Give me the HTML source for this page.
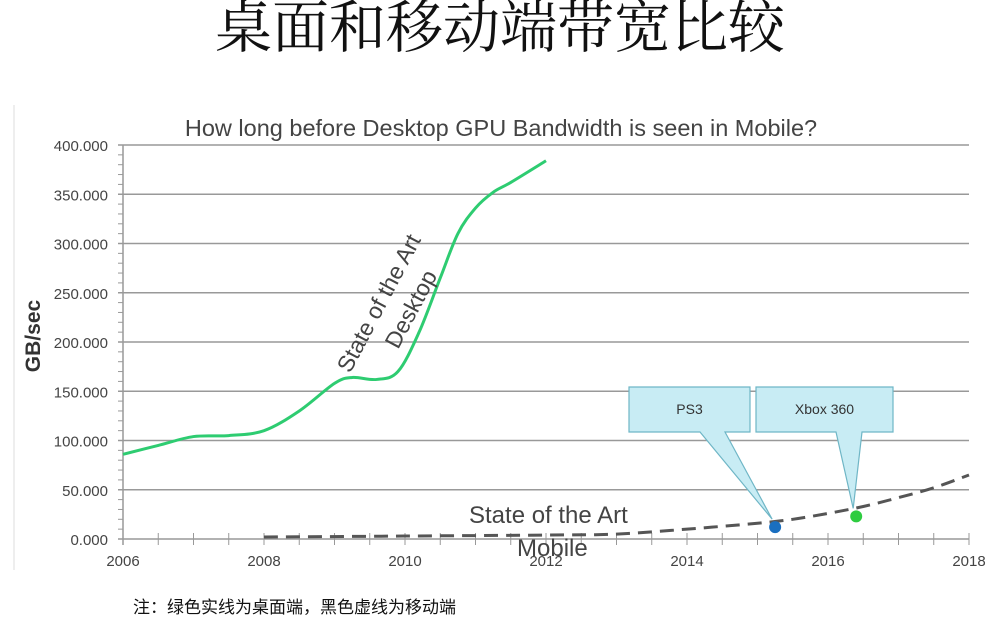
<!DOCTYPE html>
<html><head><meta charset="utf-8"><style>
body{margin:0;background:#fff;width:1006px;height:618px;overflow:hidden;font-family:"Liberation Sans","Noto Sans CJK SC",sans-serif}
</style></head><body>
<svg width="1006" height="618" xmlns="http://www.w3.org/2000/svg">
<text x="500" y="47" text-anchor="middle" font-size="57" font-family="'Noto Serif CJK SC','Noto Sans CJK SC',serif" fill="#111">桌面和移动端带宽比较</text>
<line x1="14" y1="105" x2="14" y2="570" stroke="#ddd" stroke-width="1"/>
<text x="501" y="136" text-anchor="middle" font-size="23.5" fill="#444">How long before Desktop GPU Bandwidth is seen in Mobile?</text>
<g id="grid"></g><g id="axes"></g><g id="series"></g>
<text transform="translate(40,336) rotate(-90)" text-anchor="middle" font-size="21" font-weight="bold" fill="#333">GB/sec</text>
<text transform="translate(350,374) rotate(-62)" font-size="23" fill="#444">State of the Art</text>
<text transform="translate(398,350) rotate(-62)" font-size="23" fill="#444">Desktop</text>
<text x="469" y="523" font-size="24" fill="#444">State of the Art</text>
<text x="517" y="556" font-size="24" fill="#444">Mobile</text>
<g id="callouts"></g>
<text x="133" y="613" font-size="17" fill="#111">注：绿色实线为桌面端，黑色虚线为移动端</text>
</svg>
<script>
const yTicks=[0,50,100,150,200,250,300,350,400];
const xTicks=[2006,2008,2010,2012,2014,2016,2018];
const desktopYears=[2006,2006.5,2007,2007.5,2008,2008.5,2009,2009.25,2009.6,2009.9,2010.2,2010.5,2010.75,2011,2011.25,2011.5,2012];
const desktopVals=[86,95,104,105,110,130,158,164,162,170,210,265,310,336,352,362,384];
const mobileYears=[2008,2010,2012,2013,2014,2015,2015.5,2016,2016.5,2017,2017.5,2018];
const mobileVals=[2,3,4,5,10,16,20,26,33,42,52,65];
const markerYears=[2015.25,2016.4];
const markerVals=[12,23];
const markerLabels=['PS3','Xbox 360'];
const NS='http://www.w3.org/2000/svg';
const X=y=>123+(y-2006)*(969-123)/12;
const Y=v=>539-v*(539-145)/400;
function mk(t,a,p){const e=document.createElementNS(NS,t);for(const k in a)e.setAttribute(k,a[k]);p.appendChild(e);return e;}
const grid=document.getElementById('grid'),axes=document.getElementById('axes'),ser=document.getElementById('series'),co=document.getElementById('callouts');
yTicks.forEach(v=>{
 const l=mk('line',{x1:118,x2:969,y1:Y(v),y2:Y(v),stroke:'#999','stroke-width':1.5},grid);
 
 
 const t=mk('text',{x:108,y:Y(v)+6,'text-anchor':'end','font-size':15,fill:'#444'},axes);t.textContent=v.toFixed(3);
 
 
});
for(let v=0;v<=400;v+=10){mk('line',{x1:118,x2:123,y1:Y(v),y2:Y(v),stroke:'#999'},axes);}
mk('line',{x1:123,x2:123,y1:145,y2:545,stroke:'#999','stroke-width':1.5},axes);
for(let y=2006;y<=2018;y+=0.5){mk('line',{x1:X(y),x2:X(y),y1:533,y2:545,stroke:'#999'},axes);}
xTicks.forEach(y=>{const t=mk('text',{x:X(y),y:566,'text-anchor':'middle','font-size':15,fill:'#444'},axes);t.textContent=y;
 
 });
function smooth(xs,ys){const p=xs.map((x,i)=>[X(x),Y(ys[i])]);let d='M'+p[0][0]+','+p[0][1];
 for(let i=0;i<p.length-1;i++){const p0=p[i-1]||p[i],p1=p[i],p2=p[i+1],p3=p[i+2]||p2;
 d+=` C${p1[0]+(p2[0]-p0[0])/6},${p1[1]+(p2[1]-p0[1])/6} ${p2[0]-(p3[0]-p1[0])/6},${p2[1]-(p3[1]-p1[1])/6} ${p2[0]},${p2[1]}`;}return d;}
const dl=mk('path',{d:smooth(desktopYears,desktopVals),fill:'none',stroke:'#2ecc71','stroke-width':3},ser);


const ml=mk('path',{d:smooth(mobileYears,mobileVals),fill:'none',stroke:'#555','stroke-width':3,'stroke-dasharray':'14 8'},ser);


const boxes=[[629,750],[756,893]];
markerYears.forEach((y,i)=>{
 const px=X(y),py=Y(markerVals[i]);const b=boxes[i];
 const g=mk('g',{},co);
 
 
 const tx1=i==0?700:836,tx2=i==0?725:862;
 mk('path',{d:`M${b[0]},387 H${b[1]} V432 H${tx2} L${px-3},${py-8} L${tx1},432 H${b[0]} Z`,fill:'#c8ecf4',stroke:'#6fb6c6','stroke-width':1.2},g);
 const t=mk('text',{x:(b[0]+b[1])/2,y:414,'text-anchor':'middle','font-size':14,fill:'#333'},g);t.textContent=markerLabels[i];
 const c=mk('circle',{cx:px,cy:py,r:6,fill:i==0?'#1a6fc0':'#2ecc40'},ser);
 
 
});
</script>
</body></html>
